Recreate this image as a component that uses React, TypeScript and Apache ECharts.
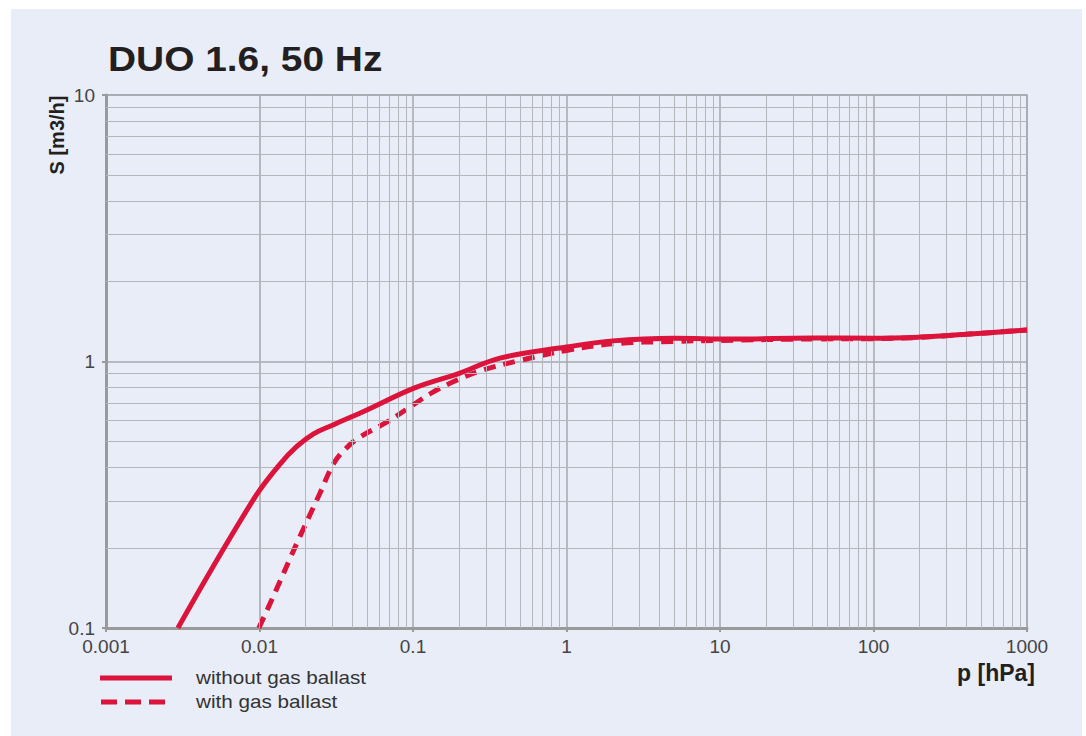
import React, { useEffect, useRef } from "react";
import * as echarts from "echarts";

const titleText = "DUO 1.6, 50 Hz";
const xAxisName = "p [hPa]";
const yAxisName = "S [m3/h]";
const xTickLabels = ["0.001", "0.01", "0.1", "1", "10", "100", "1000"];
const yTickLabels = ["0.1", "1", "10"];
const seriesNames = ["without gas ballast", "with gas ballast"];

// [p (hPa), S (m3/h)]
const withoutBallast: [number, number][] = [
  [0.00294, 0.1],
  [0.00908, 0.302],
  [0.0136, 0.412],
  [0.0175, 0.48],
  [0.0225, 0.535],
  [0.0301, 0.578],
  [0.0501, 0.658],
  [0.1016, 0.795],
  [0.202, 0.905],
  [0.369, 1.03],
  [1, 1.133],
  [2, 1.195],
  [5, 1.222],
  [12, 1.214],
  [40, 1.226],
  [100, 1.222],
  [200, 1.235],
  [400, 1.265],
  [1000, 1.313],
];

const withBallast: [number, number][] = [
  [0.0099, 0.1],
  [0.01225, 0.1307],
  [0.01754, 0.2084],
  [0.0248, 0.321],
  [0.0305, 0.415],
  [0.037, 0.475],
  [0.0452, 0.521],
  [0.0678, 0.593],
  [0.0956, 0.675],
  [0.135, 0.768],
  [0.194, 0.852],
  [0.286, 0.929],
  [0.5, 1.01],
  [1, 1.1],
  [2, 1.165],
  [5, 1.19],
  [10, 1.2],
  [40, 1.215],
  [100, 1.218],
  [200, 1.232],
  [400, 1.265],
  [1000, 1.313],
];

const decadesX = [0.001, 0.01, 0.1, 1, 10, 100];
const decadesY = [0.1, 1];
const minorMult = [2, 3, 4, 5, 6, 7, 8, 9];

export default function App() {
  const ref = useRef<HTMLDivElement>(null);

  useEffect(() => {
    document.body.style.margin = "0";
    if (!ref.current) return;
    const chart = echarts.init(ref.current, null, { renderer: "svg" });

    const minorX: any[] = [];
    decadesX.forEach((d) => minorMult.forEach((m) => minorX.push({ xAxis: +(d * m).toPrecision(6) })));
    const minorY: any[] = [];
    decadesY.forEach((d) => minorMult.forEach((m) => minorY.push({ yAxis: +(d * m).toPrecision(6) })));

    const red = "#dc143c";
    const gridLine = "#b4b6bb";
    const font = "'Liberation Sans', Arial, sans-serif";

    chart.setOption({
      animation: false,
      backgroundColor: "#ffffff",
      graphic: [
        {
          type: "rect",
          z: -10,
          silent: true,
          shape: { x: 11, y: 9, width: 1071, height: 727 },
          style: { fill: "#e9edf8" },
        },
        {
          type: "text",
          x: 108,
          y: 59,
          scaleX: 1.08,
          style: {
            text: titleText,
            font: `bold 36px ${font}`,
            fill: "#231f20",
            verticalAlign: "middle",
          },
        },
        {
          type: "text",
          x: 57,
          y: 135,
          rotation: Math.PI / 2,
          style: {
            text: yAxisName,
            font: `bold 20px ${font}`,
            fill: "#231f20",
            align: "center",
            verticalAlign: "middle",
          },
        },
        {
          type: "text",
          x: 1035,
          y: 673,
          style: {
            text: xAxisName,
            font: `bold 23px ${font}`,
            fill: "#231f20",
            align: "right",
            verticalAlign: "middle",
          },
        },
        {
          type: "line",
          shape: { x1: 100, y1: 678, x2: 172, y2: 678 },
          style: { stroke: red, lineWidth: 5 },
        },
        {
          type: "line",
          shape: { x1: 101, y1: 702, x2: 166, y2: 702 },
          style: { stroke: red, lineWidth: 5, lineDash: [16, 8] },
        },
        {
          type: "text",
          x: 196,
          y: 678,
          scaleX: 1.15,
          style: {
            text: seriesNames[0],
            font: `18px ${font}`,
            fill: "#333333",
            verticalAlign: "middle",
          },
        },
        {
          type: "text",
          x: 196,
          y: 702,
          scaleX: 1.15,
          style: {
            text: seriesNames[1],
            font: `18px ${font}`,
            fill: "#333333",
            verticalAlign: "middle",
          },
        },
      ],
      grid: {
        left: 106,
        top: 95,
        right: 59,
        bottom: 108,
        show: true,
        borderColor: "#a9abb0",
        borderWidth: 1.5,
        backgroundColor: "transparent",
      },
      xAxis: {
        type: "log",
        logBase: 10,
        min: 0.001,
        max: 1000,
        axisLine: { show: true, lineStyle: { color: "#9a9a9a", width: 3 } },
        axisTick: { show: true, length: 4, lineStyle: { color: "#9a9a9a", width: 2 } },
        axisLabel: {
          fontFamily: "Liberation Sans, Arial, sans-serif",
          fontSize: 19,
          color: "#444444",
          margin: 9,
          formatter: (v: number) => xTickLabels[Math.round(Math.log10(v)) + 3] ?? "",
        },
        splitLine: { show: true, lineStyle: { color: "#a5a7ac", width: 1.5 } },
      },
      yAxis: {
        type: "log",
        logBase: 10,
        min: 0.1,
        max: 10,
        axisLine: { show: true, lineStyle: { color: "#9a9a9a", width: 3 } },
        axisTick: { show: true, length: 4, lineStyle: { color: "#9a9a9a", width: 2 } },
        axisLabel: {
          fontFamily: "Liberation Sans, Arial, sans-serif",
          fontSize: 19,
          color: "#444444",
          margin: 11,
          formatter: (v: number) => yTickLabels[Math.round(Math.log10(v)) + 1] ?? "",
        },
        splitLine: { show: true, lineStyle: { color: "#a5a7ac", width: 1.5 } },
      },
      series: [
        {
          type: "line",
          name: "grid",
          data: [[1, 1]],
          symbol: "none",
          silent: true,
          z: 1,
          lineStyle: { opacity: 0 },
          markLine: {
            silent: true,
            symbol: ["none", "none"],
            label: { show: false },
            lineStyle: { color: gridLine, width: 1, type: "solid" },
            emphasis: { disabled: true },
            data: [...minorX, ...minorY],
          },
        },
        {
          type: "line",
          name: seriesNames[1],
          data: withBallast,
          symbol: "none",
          smooth: 0.4,
          z: 4,
          lineStyle: { color: red, width: 5, type: [12, 8] },
        },
        {
          type: "line",
          name: seriesNames[0],
          data: withoutBallast,
          symbol: "none",
          smooth: 0.4,
          z: 5,
          lineStyle: { color: red, width: 5 },
        },
      ],
    });

    return () => chart.dispose();
  }, []);

  return <div ref={ref} style={{ width: 1086, height: 736 }} />;
}
